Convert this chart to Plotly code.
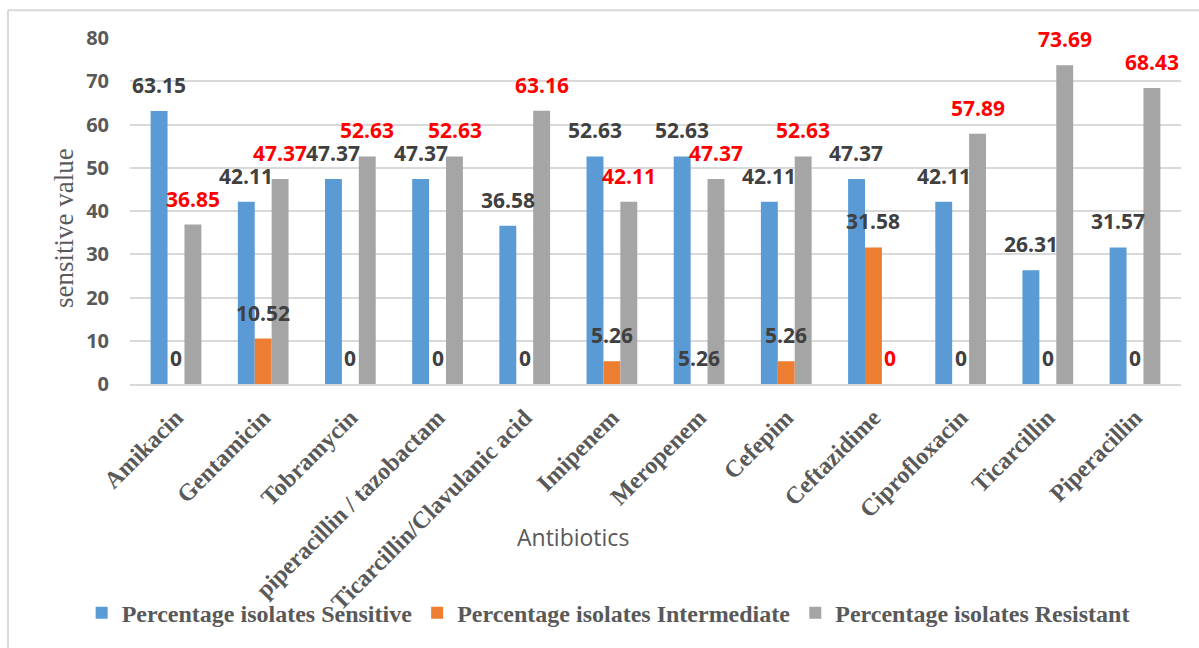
import plotly.graph_objects as go

categories = ["Amikacin", "Gentamicin", "Tobramycin", "piperacillin / tazobactam",
              "Ticarcillin/Clavulanic acid", "Imipenem", "Meropenem", "Cefepim",
              "Ceftazidime", "Ciprofloxacin", "Ticarcillin", "Piperacillin"]
sensitive = [63.15, 42.11, 47.37, 47.37, 36.58, 52.63, 52.63, 42.11, 47.37, 42.11, 26.31, 31.57]
intermediate = [0, 10.52, 0, 0, 0, 5.26, 0, 5.26, 31.58, 0, 0, 0]
intermediate_labels = ["0", "10.52", "0", "0", "0", "5.26", "5.26", "5.26", "31.58", "0", "0", "0"]
resistant = [36.85, 47.37, 52.63, 52.63, 63.16, 42.11, 47.37, 52.63, 0, 57.89, 73.69, 68.43]
y_ticks = [0, 10, 20, 30, 40, 50, 60, 70, 80]

series = [
    ("Percentage isolates Sensitive", sensitive, [f"{v:g}" for v in sensitive], "#5B9BD5", "#404040"),
    ("Percentage isolates Intermediate", intermediate, intermediate_labels, "#ED7D31", "#404040"),
    ("Percentage isolates Resistant", resistant, [f"{v:g}" for v in resistant], "#A5A5A5", "#FF0000"),
]

fig = go.Figure()
annotations = []
shifts = [-17, 0, 17]
for (name, vals, labels, color, lcolor), sh in zip(series, shifts):
    fig.add_trace(go.Bar(name=name, x=categories, y=vals, marker=dict(color=color, line=dict(width=0))))
    for c, v, t in zip(categories, vals, labels):
        annotations.append(dict(x=c, y=v, xref="x", yref="y", text=t, showarrow=False,
                                xshift=sh, yshift=10, yanchor="bottom",
                                font=dict(family="Open Sans", size=21, color=lcolor, weight="bold")))

annotations.append(dict(x=0.4215, y=-0.4425, xref="paper", yref="paper", text="Antibiotics",
                        showarrow=False, xanchor="center", yanchor="middle",
                        font=dict(family="Open Sans", size=23, color="#595959")))
annotations.append(dict(x=-0.0628, y=0.451, xref="paper", yref="paper", text="sensitive value",
                        showarrow=False, textangle=-90, xanchor="center", yanchor="middle",
                        font=dict(family="Liberation Serif", size=27, color="#595959")))

fig.update_layout(
    width=1199, height=648,
    margin=dict(l=130, r=18, t=38, b=262),
    paper_bgcolor="white", plot_bgcolor="white",
    barmode="group", bargap=0.418, bargroupgap=0,
    annotations=annotations,
    showlegend=True,
    legend=dict(orientation="h", x=-0.046, xanchor="left", y=-0.662, yanchor="middle",
                bgcolor="rgba(0,0,0,0)",
                font=dict(family="Liberation Serif", size=24, color="#595959", weight="bold"),
                itemsizing="constant", tracegroupgap=0),
    shapes=[
        dict(type="line", xref="paper", yref="paper", x0=-0.1161, x1=1.05, y0=1.0805, y1=1.0805,
             line=dict(color="#D9D9D9", width=2)),
        dict(type="line", xref="paper", yref="paper", x0=-0.1161, x1=-0.1161, y0=1.0805, y1=-0.8,
             line=dict(color="#D9D9D9", width=2)),
    ],
)
fig.update_xaxes(tickangle=-45, tickfont=dict(family="Liberation Serif", size=24, color="#595959", weight="bold"),
                 showline=True, linecolor="#D9D9D9", linewidth=2, ticks="", ticklabelstandoff=8,
                 automargin=False)
fig.update_yaxes(range=[0, 80], tickvals=y_ticks, showgrid=True, gridcolor="#D9D9D9", gridwidth=1.5,
                 zeroline=False, showline=False,
                 tickfont=dict(family="Open Sans", size=20, color="#595959", weight="bold"),
                 ticklabelstandoff=20)

fig.write_html("out.html")
